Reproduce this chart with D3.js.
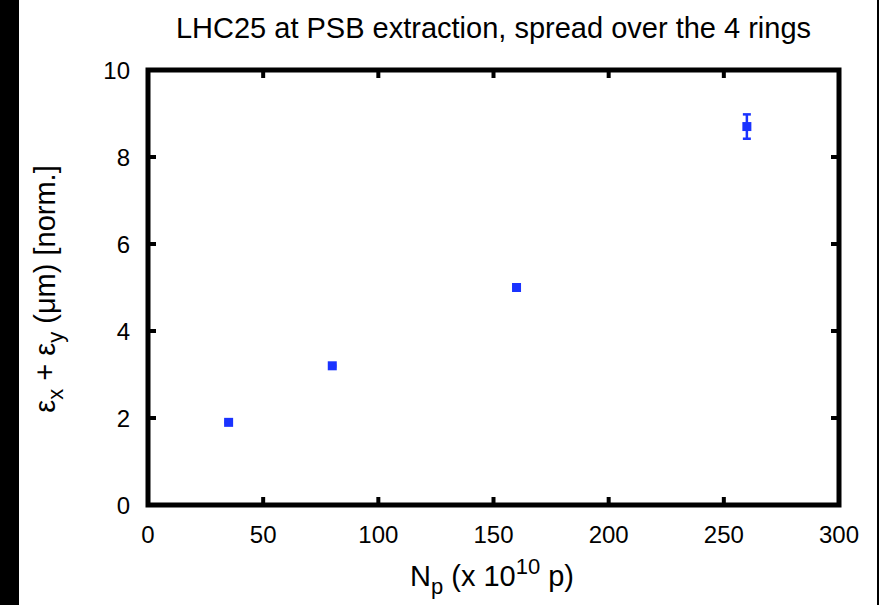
<!DOCTYPE html>
<html><head><meta charset="utf-8">
<script src="https://cdn.jsdelivr.net/npm/d3@7"></script>
<style>body{margin:0;background:#fff}svg{display:block}text{font-family:"Liberation Sans",Arial,sans-serif}</style>
</head><body>
<svg id="c" width="879" height="605"></svg>
<script>
const intensity = [35, 80, 160, 260];
const emittance = [1.9, 3.2, 5.0, 8.7];
const errors = [0.02, 0.02, 0.02, 0.28];
const xTicks = [0, 50, 100, 150, 200, 250, 300];
const yTicks = [0, 2, 4, 6, 8, 10];

const TFS = 24, LFS = 29, SUB = 22;
const svg = d3.select("#c");
svg.append("rect").attr("x",0).attr("y",0).attr("width",19).attr("height",605).attr("fill","#000");
svg.append("rect").attr("x",877).attr("y",0).attr("width",2).attr("height",605).attr("fill","#000");

const L=148, R=839, T=70, B=505;
const x = d3.scaleLinear().domain([0,300]).range([L,R]);
const y = d3.scaleLinear().domain([0,10]).range([B,T]);
const tl = 8, tw = 4;

const g = svg.append("g");
g.selectAll(".xb").data(xTicks.slice(1,-1)).join("line")
 .attr("x1",d=>x(d)).attr("x2",d=>x(d)).attr("y1",B).attr("y2",B-tl).attr("stroke","#000").attr("stroke-width",tw);
g.selectAll(".xt").data(xTicks.slice(1,-1)).join("line")
 .attr("x1",d=>x(d)).attr("x2",d=>x(d)).attr("y1",T).attr("y2",T+tl).attr("stroke","#000").attr("stroke-width",tw);
g.selectAll(".yl").data(yTicks.slice(1,-1)).join("line")
 .attr("x1",L).attr("x2",L+tl).attr("y1",d=>y(d)).attr("y2",d=>y(d)).attr("stroke","#000").attr("stroke-width",tw);
g.selectAll(".yr").data(yTicks.slice(1,-1)).join("line")
 .attr("x1",R).attr("x2",R-tl).attr("y1",d=>y(d)).attr("y2",d=>y(d)).attr("stroke","#000").attr("stroke-width",tw);
g.append("rect").attr("x",L).attr("y",T).attr("width",R-L).attr("height",B-T)
 .attr("fill","none").attr("stroke","#000").attr("stroke-width",5);

g.selectAll(".xlab").data(xTicks).join("text")
 .attr("x",d=>x(d)).attr("y",543).attr("text-anchor","middle").attr("font-size",TFS).text(d=>d);
g.selectAll(".ylab").data(yTicks).join("text")
 .attr("x",130).attr("y",d=>y(d)+8.5).attr("text-anchor","end").attr("font-size",TFS).text(d=>d);

svg.append("text").attr("x",493.5).attr("y",38).attr("text-anchor","middle").attr("font-size",LFS)
 .text("LHC25 at PSB extraction, spread over the 4 rings");

const xl = svg.append("text").attr("x",492).attr("y",586).attr("text-anchor","middle").attr("font-size",LFS);
xl.append("tspan").text("N");
xl.append("tspan").attr("font-size",SUB).attr("dy",8).text("p");
xl.append("tspan").attr("dy",-8).text(" (x 10");
xl.append("tspan").attr("font-size",SUB).attr("dy",-12).text("10");
xl.append("tspan").attr("dy",12).text(" p)");

const yl = svg.append("text").attr("transform","translate(55,289) rotate(-90)").attr("text-anchor","middle").attr("font-size",LFS);
yl.append("tspan").text("ε");
yl.append("tspan").attr("font-size",SUB).attr("dy",8).text("x");
yl.append("tspan").attr("dy",-8).text(" + ε");
yl.append("tspan").attr("font-size",SUB).attr("dy",8).text("y");
yl.append("tspan").attr("dy",-8).text(" (μm) [norm.]");

const blue = "#1a33ff";
const pts = intensity.map((v,i)=>({x:v,y:emittance[i],e:errors[i]}));
const pg = svg.append("g");
pg.selectAll(".eb").data(pts).join("line")
 .attr("x1",d=>x(d.x)).attr("x2",d=>x(d.x)).attr("y1",d=>y(d.y+d.e)).attr("y2",d=>y(d.y-d.e))
 .attr("stroke",blue).attr("stroke-width",2.5);
pg.selectAll(".cap1").data(pts).join("line")
 .attr("x1",d=>x(d.x)-4).attr("x2",d=>x(d.x)+4).attr("y1",d=>y(d.y+d.e)).attr("y2",d=>y(d.y+d.e))
 .attr("stroke",blue).attr("stroke-width",2.5);
pg.selectAll(".cap2").data(pts).join("line")
 .attr("x1",d=>x(d.x)-4).attr("x2",d=>x(d.x)+4).attr("y1",d=>y(d.y-d.e)).attr("y2",d=>y(d.y-d.e))
 .attr("stroke",blue).attr("stroke-width",2.5);
pg.selectAll(".pt").data(pts).join("rect")
 .attr("x",d=>x(d.x)-4.5).attr("y",d=>y(d.y)-4.5).attr("width",9).attr("height",9).attr("fill",blue);
</script>
</body></html>
